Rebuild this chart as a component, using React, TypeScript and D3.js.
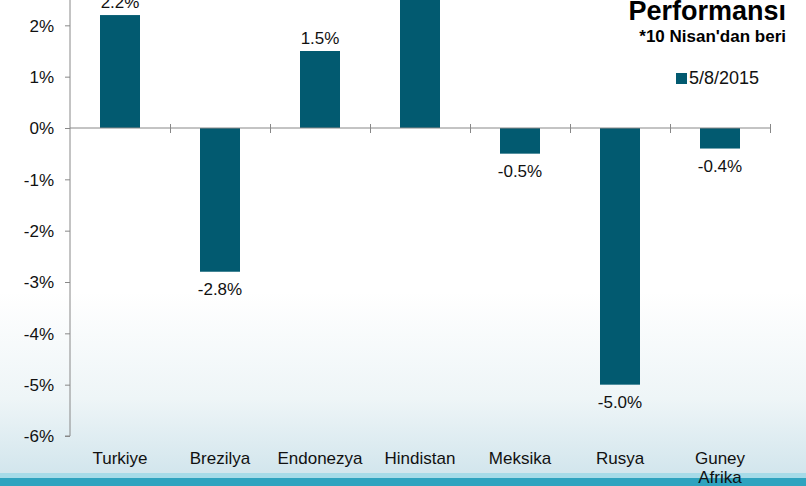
import React, { useEffect, useRef } from "react";
import * as d3 from "d3";

const categories = ["Turkiye", "Brezilya", "Endonezya", "Hindistan", "Meksika", "Rusya", "Guney Afrika"];
const values = [2.2, -2.8, 1.5, 3.2, -0.5, -5.0, -0.4];
const yTicks = [-6, -5, -4, -3, -2, -1, 0, 1, 2];
const seriesName = "5/8/2015";
const title = "Performansı";
const subtitle = "*10 Nisan'dan beri";

const W = 806;
const H = 486;
const BAR = "#025a70";

const App = () => {
  const ref = useRef<SVGSVGElement>(null);

  useEffect(() => {
    const svg = d3.select(ref.current);
    svg.selectAll("*").remove();

    const font = "'Liberation Sans', Arial, sans-serif";

    // background
    const defs = svg.append("defs");
    const grad = defs.append("linearGradient").attr("id", "bg").attr("x1", 0).attr("y1", 0).attr("x2", 0).attr("y2", 1);
    grad.append("stop").attr("offset", "0%").attr("stop-color", "#ffffff");
    grad.append("stop").attr("offset", "60%").attr("stop-color", "#ffffff");
    grad.append("stop").attr("offset", "82%").attr("stop-color", "#eef5f7");
    grad.append("stop").attr("offset", "97%").attr("stop-color", "#d3e6ed");
    svg.append("rect").attr("width", W).attr("height", H).attr("fill", "url(#bg)");
    svg.append("rect").attr("x", 0).attr("y", 473).attr("width", W).attr("height", 5).attr("fill", "#a6dbe8");
    svg.append("rect").attr("x", 0).attr("y", 478).attr("width", W).attr("height", 8).attr("fill", "#2fa3bf");

    const x = d3.scaleBand().domain(categories).range([70, 770]).paddingInner(0.6).paddingOuter(0.3);
    const y = d3.scaleLinear().domain([-6, 0]).range([436, 128]);

    // bars
    svg
      .append("g")
      .selectAll("rect")
      .data(values)
      .join("rect")
      .attr("x", (_, i) => x(categories[i])!)
      .attr("width", x.bandwidth())
      .attr("y", (d) => Math.min(y(d), y(0)))
      .attr("height", (d) => Math.abs(y(d) - y(0)))
      .attr("fill", BAR);

    // value labels
    svg
      .append("g")
      .selectAll("text")
      .data(values)
      .join("text")
      .attr("x", (_, i) => x(categories[i])! + x.bandwidth() / 2)
      .attr("y", (d) => (d >= 0 ? y(d) - 7 : y(d) + 23))
      .attr("text-anchor", "middle")
      .attr("font-family", font)
      .attr("font-size", 17)
      .attr("fill", "#111")
      .text((d) => `${d.toFixed(1)}%`);

    // y axis
    const yAxis = svg
      .append("g")
      .attr("transform", "translate(70,0)")
      .call(d3.axisLeft(y).tickValues(yTicks).tickSize(5).tickFormat((d) => `${d}%`));
    yAxis.select(".domain").attr("stroke", "#888").attr("d", `M-5,${y(-6)}H0V-10`);
    yAxis.selectAll(".tick line").attr("stroke", "#888");
    yAxis
      .selectAll(".tick text")
      .attr("x", -16)
      .attr("dy", "0.35em")
      .attr("font-family", font)
      .attr("font-size", 17)
      .attr("fill", "#111");

    // x axis at zero
    const xAxis = svg
      .append("g")
      .attr("transform", `translate(0,${y(0)})`)
      .call(
        d3
          .axisBottom(d3.scaleLinear().domain([0, 7]).range([70, 770]))
          .tickValues([1, 2, 3, 4, 5, 6, 7])
          .tickSize(5)
          .tickFormat(() => "")
      );
    xAxis.select(".domain").attr("stroke", "#888").attr("d", "M70,0H770");
    xAxis.selectAll(".tick line").attr("stroke", "#888").attr("y1", -4);

    // category labels
    svg
      .append("g")
      .selectAll("text")
      .data(categories)
      .join("text")
      .attr("x", (d) => x(d)! + x.bandwidth() / 2)
      .attr("y", 464)
      .attr("text-anchor", "middle")
      .attr("font-family", font)
      .attr("font-size", 17)
      .attr("fill", "#111")
      .each(function (d) {
        const parts = d.split(" ");
        const t = d3.select(this);
        parts.forEach((p, i) => {
          t.append("tspan")
            .attr("x", x(d)! + x.bandwidth() / 2)
            .attr("dy", i === 0 ? 0 : 19)
            .text(p);
        });
      });

    // title
    svg
      .append("text")
      .attr("x", 786)
      .attr("y", 20)
      .attr("text-anchor", "end")
      .attr("font-family", font)
      .attr("font-weight", "bold")
      .attr("font-size", 27)
      .attr("fill", "#000")
      .text(title);
    svg
      .append("text")
      .attr("x", 786)
      .attr("y", 42)
      .attr("text-anchor", "end")
      .attr("font-family", font)
      .attr("font-weight", "bold")
      .attr("font-size", 17)
      .attr("fill", "#000")
      .text(subtitle);

    // legend
    svg.append("rect").attr("x", 676).attr("y", 73).attr("width", 11).attr("height", 11).attr("fill", BAR);
    svg
      .append("text")
      .attr("x", 689)
      .attr("y", 84)
      .attr("font-family", font)
      .attr("font-size", 18)
      .attr("fill", "#111")
      .text(seriesName);
  }, []);

  return <svg ref={ref} width={W} height={H} style={{ position: "fixed", left: 0, top: 0 }} />;
};

export default App;
